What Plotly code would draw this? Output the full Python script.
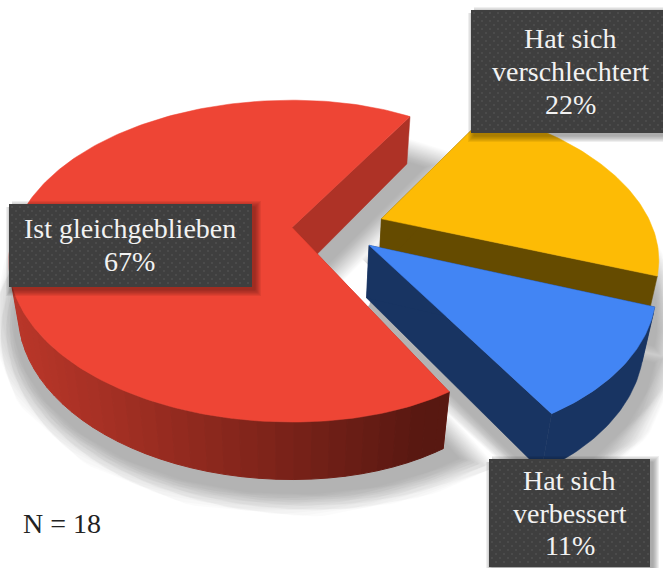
import numpy as np
import plotly.graph_objects as go

# ---- data
categories = ["Ist gleichgeblieben", "Hat sich verschlechtert", "Hat sich verbessert"]
values = [67, 22, 11]
label_lines = [["Ist gleichgeblieben", "67%"], ["Hat sich", "verschlechtert", "22%"], ["Hat sich", "verbessert", "11%"]]
note_text = "N = 18"

# ---- style
top_colors = ["#EE4535", "#FDBB05", "#4285F4"]
radial_wall_colors = ["#AE3226", "#654B00", "#183462"]
outer_wall_colors = [None, "#654B00", "#183462"]
red_wall_left = np.array([0xB8, 0x36, 0x29])
red_wall_right = np.array([0x58, 0x18, 0x11])
FONT = "Liberation Serif"
W, H = 663, 568

# ---- perspective camera fitted to the picture
CX, CY = 292.0, 228.0
F = 1100.0
ELEV = np.radians(33.8)
S, C = np.sin(ELEV), np.cos(ELEV)
DIST = 3.95
THICK = 0.232
RADII = [0.995, 0.972, 0.972]
SQUEEZE = [0.1, 0.0, 0.0]
START = 58.0
CENTER_X = 0.145
explode = [0.145, 0.19, 0.166]


def project(X, Y, Z):
    depth = DIST + Y * C - Z * S
    return CX + F * X / depth, CY - F * (Y * S + Z * C) / depth


def slice_geom(i):
    sweep = [v / sum(values) * 360 for v in values]
    if i == 0:
        a0 = START
        a1 = START + sweep[0]
    else:
        a1 = START - sum(sweep[1:i])
        a0 = a1 - sweep[i]
    mid = np.radians((a0 + a1) / 2)
    ax = CENTER_X + explode[i] * np.cos(mid)
    ay = explode[i] * np.sin(mid)
    t = np.radians(np.linspace(a0, a1, int(abs(a1 - a0)) + 2))
    cx = np.cos(t) * (1 - SQUEEZE[i] * np.clip(np.cos(t), 0, None))
    return ax, ay, ax + RADII[i] * cx, ay + RADII[i] * np.sin(t), t


fig = go.Figure()


def poly(xs, ys, color, opacity=1.0, lw=0.0):
    fig.add_trace(go.Scatter(
        x=list(xs), y=list(ys), mode="lines", fill="toself", fillcolor=color,
        line=dict(color=color, width=lw), opacity=opacity,
        hoverinfo="skip", showlegend=False))


# ---- soft cast shadow from the slice bases
SH_DX, SH_DY = 3, 7
sx, sy = [], []
for i in range(3):
    ax, ay, ox, oy, _ = slice_geom(i)
    px, py = project(np.r_[ax, ox, ax], np.r_[ay, oy, ay], -THICK)
    sx += list(px + SH_DX) + [None]
    sy += list(py + SH_DY) + [None]
for w in np.linspace(16, 60, 20):
    poly(sx, sy, "#000000", opacity=0.0125, lw=float(w))

# ---- slices, painter's order
for i in range(3):
    ax, ay, ox, oy, ang = slice_geom(i)
    # radial walls
    for ex, ey in ((ox[0], oy[0]), (ox[-1], oy[-1])):
        tx, ty = project(np.array([ax, ex]), np.array([ay, ey]), 0)
        bx, by = project(np.array([ax, ex]), np.array([ay, ey]), -THICK)
        poly(np.r_[tx, bx[::-1], tx[0]], np.r_[ty, by[::-1], ty[0]], radial_wall_colors[i], lw=0.5)
    # outer wall: only the part that faces the camera
    cam_y = -DIST * C
    facing = np.cos(ang) * (-ox) + np.sin(ang) * (cam_y - oy) > 0
    if facing.sum() >= 2:
        tx, ty = project(ox[facing], oy[facing], 0)
        bx, by = project(ox[facing], oy[facing], -THICK)
        if outer_wall_colors[i]:
            poly(np.r_[tx, bx[::-1], tx[0]], np.r_[ty, by[::-1], ty[0]], outer_wall_colors[i], lw=0.5)
        else:
            step = 3
            for k in range(0, len(tx) - 1, step):
                e = min(k + step, len(tx) - 1)
                f = np.clip((tx[k] - 20) / 400, 0, 1)
                col = red_wall_left + (red_wall_right - red_wall_left) * f
                c = "rgb(%d,%d,%d)" % tuple(col)
                poly(np.r_[tx[k:e + 1], bx[k:e + 1][::-1], tx[k]],
                     np.r_[ty[k:e + 1], by[k:e + 1][::-1], ty[k]], c, lw=1)
    # top face
    px, py = project(np.r_[ax, ox, ax], np.r_[ay, oy, ay], 0)
    poly(px, py, top_colors[i], lw=0.5)

# ---- label boxes
boxes = [(9, 204, 252, 287), (471, 10, 665, 133), (489, 459, 650, 567)]
text_pos = [(129.5, [228, 261]), (570, [38, 71, 104]), (569.5, [480, 513, 545])]
for (x0, y0, x1, y1) in boxes:
    for w in np.linspace(1, 12, 6):
        poly([x0 + 3, x1 + 3, x1 + 3, x0 + 3, x0 + 3], [y0 + 3, y0 + 3, y1 + 3, y1 + 3, y0 + 3],
             "#000000", opacity=0.06, lw=float(w))
    poly([x0, x1, x1, x0, x0], [y0, y0, y1, y1, y0], "#3F3F3F")
    gx, gy = [], []
    for r, yy in enumerate(np.arange(y0 + 3, y1 - 1, 4)):
        for xx in np.arange(x0 + 3 + (r % 2) * 4, x1 - 1, 8):
            gx.append(float(xx))
            gy.append(float(yy))
    fig.add_trace(go.Scatter(x=gx, y=gy, mode="markers",
                             marker=dict(symbol="square", size=2, color="#4B4B4B", line=dict(width=0)),
                             hoverinfo="skip", showlegend=False))

annotations = []
for lines, (cx, ys) in zip(label_lines, text_pos):
    for t, yy in zip(lines, ys):
        annotations.append(dict(x=cx, y=yy, xref="x", yref="y", text=t, showarrow=False,
                                xanchor="center", yanchor="middle",
                                font=dict(family=FONT, size=28, color="#F2F2F2")))
annotations.append(dict(x=21, y=523, xref="x", yref="y", text=note_text, showarrow=False, xanchor="left",
                        yanchor="middle", font=dict(family=FONT, size=28, color="#222222")))

fig.update_layout(
    width=W, height=H, margin=dict(l=0, r=0, t=0, b=0),
    paper_bgcolor="white", plot_bgcolor="white", showlegend=False,
    xaxis=dict(range=[0, W], visible=False, fixedrange=True),
    yaxis=dict(range=[H, 0], visible=False, fixedrange=True),
    annotations=annotations,
)
fig.write_html("out.html", config={"displayModeBar": False},
               post_script="document.body.style.margin='0';document.body.style.overflow='hidden';")
